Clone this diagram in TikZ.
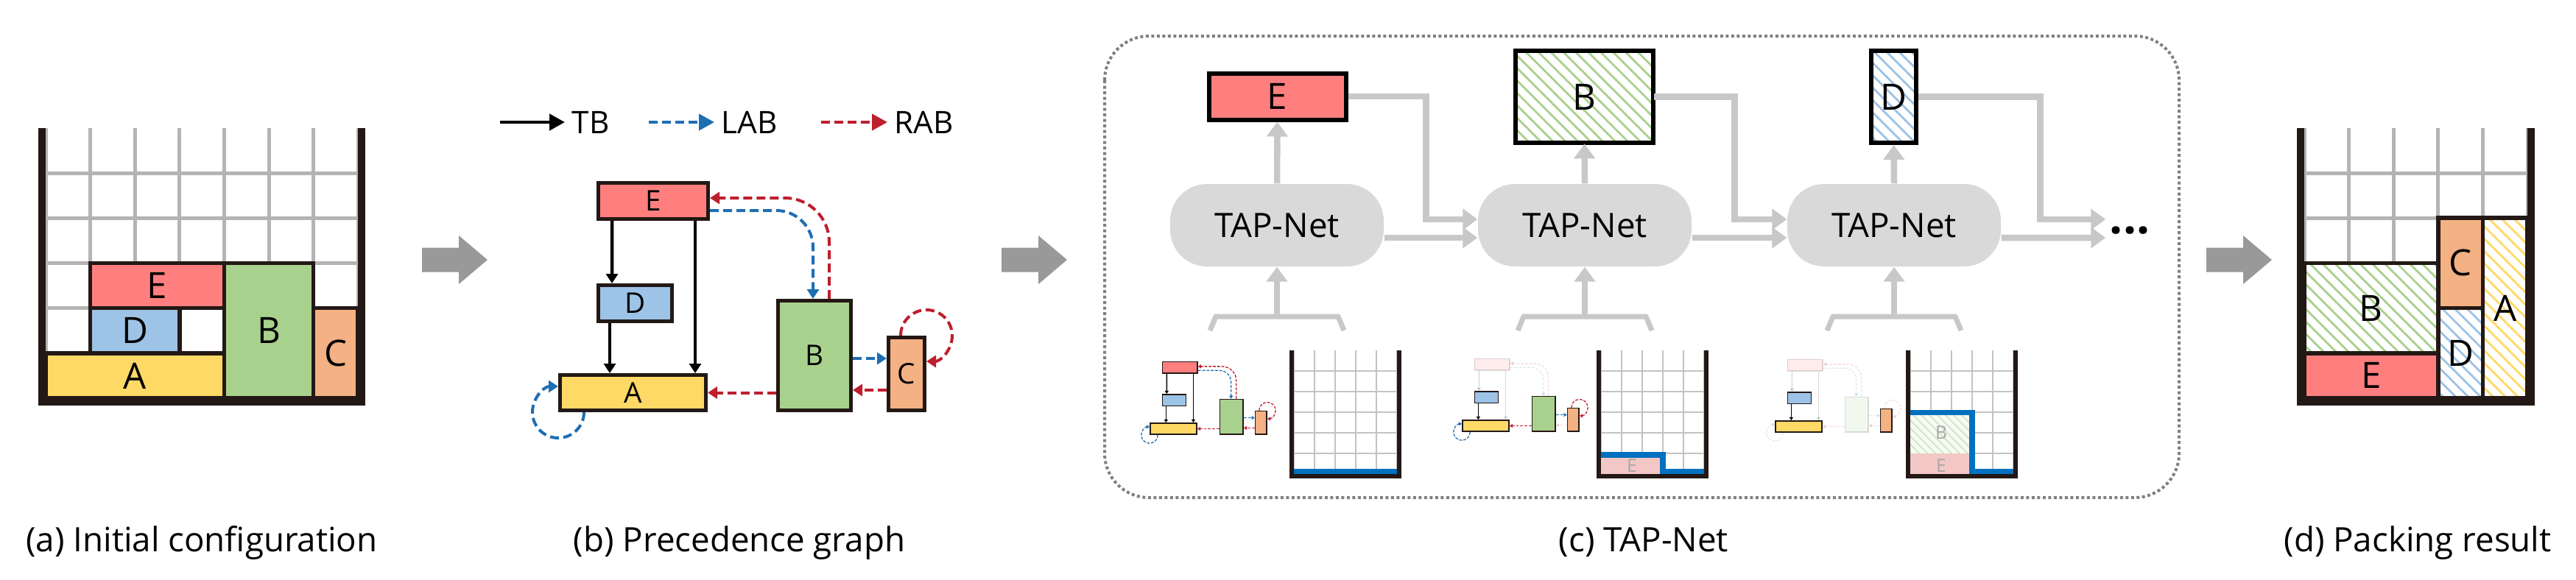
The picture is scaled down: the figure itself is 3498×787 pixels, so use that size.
\documentclass[tikz,border=0pt]{standalone}
\usepackage{fontspec}
\setmainfont{Open Sans}
\usepackage{tikz}
\usetikzlibrary{arrows.meta,patterns.meta,calc}

\definecolor{cE}{RGB}{255,127,127}
\definecolor{cD}{RGB}{157,195,230}
\definecolor{cA}{RGB}{255,217,102}
\definecolor{cB}{RGB}{169,209,142}
\definecolor{cC}{RGB}{244,177,131}
\definecolor{cEp}{RGB}{244,199,199}
\definecolor{cWall}{RGB}{35,24,21}
\definecolor{cGrid}{RGB}{180,180,180}
\definecolor{cLab}{RGB}{30,110,180}
\definecolor{cRab}{RGB}{190,30,45}
\definecolor{cTap}{RGB}{217,217,217}
\definecolor{cFlow}{RGB}{200,200,200}
\definecolor{cArrow}{RGB}{153,153,153}
\definecolor{cSky}{RGB}{0,112,192}
\definecolor{cDot}{RGB}{128,128,128}

\tikzset{
  wall/.style={draw=cWall, line width=1mm, line join=miter},
  swall/.style={draw=cWall, line width=0.6mm, line join=miter},
  gridln/.style={draw=cGrid, line width=0.5mm},
  sgrid/.style={draw=cGrid!80, line width=0.2mm},
  sky/.style={draw=cSky, line width=0.75mm, line join=miter},
  blk/.style={draw=cWall, line width=0.55mm},
  lbl/.style={font=\fontsize{14}{16}\selectfont, inner sep=0pt},
  slbl/.style={font=\fontsize{7}{8}\selectfont, text=black!35, inner sep=0pt},
  hatch/.style={preaction={fill=white}, pattern={Lines[angle=-45,distance=3.4pt,line width=0.8pt]}, pattern color=#1},
  gbox/.style={draw=cWall, line width=0.5mm, inner sep=0pt, font=\fontsize{11}{13}\selectfont},
  outbox/.style={draw=black, line width=0.6mm, inner sep=0pt, font=\fontsize{14}{16}\selectfont},
  tb/.style={draw=black, line width=0.45mm, -{Triangle[length=1.3mm,width=1.6mm]}},
  lab/.style={draw=cLab, line width=0.4mm, dash pattern=on 1.2mm off 0.6mm, -{Triangle[length=1.3mm,width=1.6mm]}},
  rab/.style={draw=cRab, line width=0.4mm, dash pattern=on 1.2mm off 0.6mm, -{Triangle[length=1.3mm,width=1.6mm]}},
  lghead/.style={-{Triangle[length=2.1mm,width=2.2mm]}},
  lgtxt/.style={anchor=west, inner sep=0.9mm, font=\fontsize{12}{14}\selectfont},
  eE/.style={}, eB/.style={}, eCB/.style={}, eLoop/.style={},
  faded/.style={opacity=0.15},
  tapnet/.style={fill=cTap, rounded corners=5mm, minimum width=29mm, minimum height=11.2mm, font=\fontsize{13}{15}\selectfont},
  gflow/.style={draw=cFlow, line width=0.85mm, -{Triangle[length=2mm,width=2.8mm]}},
  gline/.style={draw=cFlow, line width=0.7mm, line join=round},
  frame/.style={draw=cDot, line width=0.4mm, dash pattern=on 0.4mm off 0.35mm, rounded corners=6mm},
  caption/.style={anchor=base, font=\fontsize{13}{15}\selectfont},
}

\newcommand{\hidelbl}[1]{}

% precedence graph, drawn at the size of (b)
\newcommand{\precgraph}[1]{%
  \node [gbox, fill=cE, minimum width=14.9mm, minimum height=4.9mm, eE] (E) at (887,273) {#1{E}};
  \node [gbox, fill=cD, minimum width=10mm, minimum height=4.9mm] (D) at (862.5,412) {#1{D}};
  \node [gbox, fill=cA, minimum width=19.8mm, minimum height=4.8mm] (A) at (859.5,533.5) {#1{A}};
  \node [gbox, fill=cB, minimum width=9.9mm, minimum height=14.9mm, eB] (B) at (1106,483) {#1{B}};
  \node [gbox, fill=cC, minimum width=4.9mm, minimum height=9.9mm] (C) at (1231,508) {#1{C}};
  % TB
  \draw [tb, eE] ([xshift=2.1mm]E.south west) -- ([xshift=2.1mm]D.north west);
  \draw [tb] ([xshift=1.8mm]D.south west) -- ([xshift=1.8mm]D.south west |- A.north);
  \draw [tb, eE] ([xshift=-2mm]E.south east) -- ([xshift=-2mm]E.south east |- A.north);
  % LAB and RAB
  \draw [lab, eE, rounded corners=5mm] ([yshift=-1.3mm]E.east) -| ([xshift=-0.2mm]B.north);
  \draw [rab, eE, rounded corners=6mm] ([xshift=2mm]B.north) |- ([yshift=0.4mm]E.east);
  \draw [lab, eB] ([yshift=-0.4mm]B.east) -- ([yshift=-0.4mm]B.east -| C.west);
  \draw [rab, eCB] ([yshift=-2.2mm]C.west) -- ([yshift=-2.2mm]C.west -| B.east);
  \draw [rab, eB] (B.west |- A.east) -- (A.east);
  \draw [rab, eLoop] ([xshift=-3.5mm]C.north east) arc [start angle=180, end angle=-90, radius=3.5mm];
  \draw [lab, eLoop] ([xshift=3.5mm]A.south west) arc [start angle=0, end angle=-270, radius=3.5mm];
}

\newcommand{\bigarrow}[1]{\fill [cArrow] (#1,336.5) -- ++(50,0) -- ++(0,-16.5) -- ++(39,33) -- ++(-39,33) -- ++(0,-16.5) -- ++(-50,0) -- cycle;}

% bracket that gathers the two inputs of a TAP-Net
\newcommand{\feed}[2]{%
  \coordinate (#1) at (#2,430);
  \draw [gline] ([shift={(-91,19)}]#1) -- ([shift={(-83,0)}]#1) -- ([shift={(83,0)}]#1) -- ([shift={(91,19)}]#1);
}

\begin{document}
\begin{tikzpicture}[x=0.1mm, y=-0.1mm]
  \useasboundingbox (0,0) rectangle (3498,787);

  % (a) initial configuration
  \begin{scope}[shift={(62,541)}, x=6.06mm, y=6.12mm]
    \draw [gridln, step=1] (0,0) grid (7,5.99);
    \draw [blk, fill=cA] (0,0) rectangle (4,1);
    \draw [blk, fill=cD] (1,1) rectangle (3,2);
    \draw [blk, fill=cE] (1,2) rectangle (4,3);
    \draw [blk, fill=cB] (4,0) rectangle (6,3);
    \draw [blk, fill=cC] (6,0) rectangle (7,2);
    \node [lbl] at (2,0.5) {A};
    \node [lbl] at (2,1.5) {D};
    \node [lbl] at (2.5,2.5) {E};
    \node [lbl] at (5,1.5) {B};
    \node [lbl] at (6.5,1) {C};
    \draw [wall] (-0.08,6) -- (-0.08,-0.08) -- (7.08,-0.08) -- (7.08,6);
  \end{scope}
  \node [caption] (capA) at (274,749) {(a) Initial configuration};

  \bigarrow{573}

  % (b) precedence graph
  \coordinate (tbFrom) at (679,166);
  \coordinate (labFrom) at (881,166);
  \coordinate (rabFrom) at (1115,166);
  \node [lgtxt] (lgTB) at (767,166) {TB};
  \node [lgtxt] (lgLAB) at (970,166) {LAB};
  \node [lgtxt] (lgRAB) at (1205,166) {RAB};
  \draw [tb, lghead] (tbFrom) -- (lgTB.west);
  \draw [lab, lghead] (labFrom) -- (lgLAB.west);
  \draw [rab, lghead] (rabFrom) -- (lgRAB.west);
  \precgraph{}
  \node [caption] (capB) at (1004,749) {(b) Precedence graph};

  \bigarrow{1360}

  % (c) TAP-Net
  \draw [frame] (1500,49) rectangle (2959,676);
  \node [tapnet] (tap1) at (1734,306) {TAP-Net};
  \node [tapnet] (tap2) at (2152,306) {TAP-Net};
  \node [tapnet] (tap3) at (2572,306) {TAP-Net};
  \node [outbox, fill=cE, minimum width=18.6mm, minimum height=6.3mm] (outE) at (1734.5,131) {E};
  \node [outbox, hatch=cB, minimum width=18.7mm, minimum height=12.5mm] (outB) at (2151.5,131.5) {B};
  \node [outbox, hatch=cD, minimum width=6.1mm, minimum height=12.5mm] (outD) at (2571.5,131.5) {D};
  \node [inner sep=0.5mm, font=\fontsize{18}{20}\selectfont\bfseries] (more) at (2892,313) {...};

  \draw [gflow] (tap1.north) -- (outE.south);
  \draw [gflow] (tap2.north) -- (outB.south);
  \draw [gflow] (tap3.north) -- (outD.south);
  \draw [gflow] ([yshift=-1.7mm]tap1.east) -- ([yshift=-1.7mm]tap2.west);
  \draw [gflow] ([yshift=-1.7mm]tap2.east) -- ([yshift=-1.7mm]tap3.west);
  \draw [gflow] ([yshift=-1.7mm]tap3.east) -- ([yshift=-1mm]more.west);
  \draw [gflow] (outE.east) -| ([xshift=-7mm,yshift=0.8mm]tap2.west) -- ([yshift=0.8mm]tap2.west);
  \draw [gflow] (outB.east) -| ([xshift=-7.1mm,yshift=0.8mm]tap3.west) -- ([yshift=0.8mm]tap3.west);
  \draw [gflow] (outD.east) -| ([xshift=-8.9mm,yshift=1.5mm]more.west) -- ([yshift=1.5mm]more.west);

  \feed{in1}{1734}
  \feed{in2}{2152}
  \feed{in3}{2572}
  \draw [gflow] (in1) -- (tap1.south);
  \draw [gflow] (in2) -- (tap2.south);
  \draw [gflow] (in3) -- (tap3.south);

  % step 1
  \begin{scope}[transform canvas={shift={(1318.4,411.8)}, scale=0.32}]
    \precgraph{\hidelbl}
  \end{scope}
  \begin{scope}[shift={(1757,644)}, x=2.8mm, y=2.8mm]
    \draw [sgrid, step=1] (0,0) grid (5,5.99);
    \draw [sky] (0,0.13) -- (5,0.13);
    \draw [swall] (-0.1,6) -- (-0.1,-0.1) -- (5.1,-0.1) -- (5.1,6);
  \end{scope}

  % step 2
  \begin{scope}[transform canvas={shift={(1742.4,407.8)}, scale=0.32}, eE/.style={faded}, eCB/.style={faded}]
    \precgraph{\hidelbl}
  \end{scope}
  \begin{scope}[shift={(2174,644)}, x=2.8mm, y=2.8mm]
    \draw [sgrid, step=1] (0,0) grid (5,5.99);
    \fill [cEp] (0,0) rectangle (3,1);
    \node [slbl] at (1.5,0.4) {E};
    \draw [sky] (0,0.93) -| (3,0.13) -- (5,0.13);
    \draw [swall] (-0.1,6) -- (-0.1,-0.1) -- (5.1,-0.1) -- (5.1,6);
  \end{scope}

  % step 3
  \begin{scope}[transform canvas={shift={(2167.4,408.8)}, scale=0.32}, eE/.style={faded}, eB/.style={faded}, eCB/.style={faded}, eLoop/.style={faded}]
    \precgraph{\hidelbl}
  \end{scope}
  \begin{scope}[shift={(2594,644)}, x=2.8mm, y=2.8mm]
    \draw [sgrid, step=1] (0,0) grid (5,5.99);
    \fill [cEp] (0,0) rectangle (3,1);
    \path [pattern={Lines[angle=-45,distance=2.2pt,line width=0.5pt]}, pattern color=cB!55, preaction={fill=cB!10}] (0,1) rectangle (3,3);
    \node [slbl] at (1.5,0.4) {E};
    \node [slbl] at (1.5,2) {B};
    \draw [sky] (0,2.98) -| (3,0.13) -- (5,0.13);
    \draw [swall] (-0.1,6) -- (-0.1,-0.1) -- (5.1,-0.1) -- (5.1,6);
  \end{scope}
  \node [caption] (capC) at (2232,749) {(c) TAP-Net};

  \bigarrow{2996}

  % (d) packing result
  \begin{scope}[shift={(3129,541)}, x=6.06mm, y=6.12mm]
    \draw [gridln, step=1] (0,0) grid (5,5.99);
    \draw [blk, fill=cE] (0,0) rectangle (3,1);
    \draw [blk, hatch=cB] (0,1) rectangle (3,3);
    \draw [blk, hatch=cD] (3,0) rectangle (4,2);
    \draw [blk, fill=cC] (3,2) rectangle (4,4);
    \draw [blk, hatch=cA] (4,0) rectangle (5,4);
    \node [lbl] at (1.5,0.5) {E};
    \node [lbl] at (1.5,2) {B};
    \node [lbl] at (3.5,1) {D};
    \node [lbl] at (3.5,3) {C};
    \node [lbl] at (4.5,2) {A};
    \draw [wall] (-0.08,6) -- (-0.08,-0.08) -- (5.08,-0.08) -- (5.08,6);
  \end{scope}
  \node [caption] (capD) at (3283,749) {(d) Packing result};
\end{tikzpicture}
\end{document}
